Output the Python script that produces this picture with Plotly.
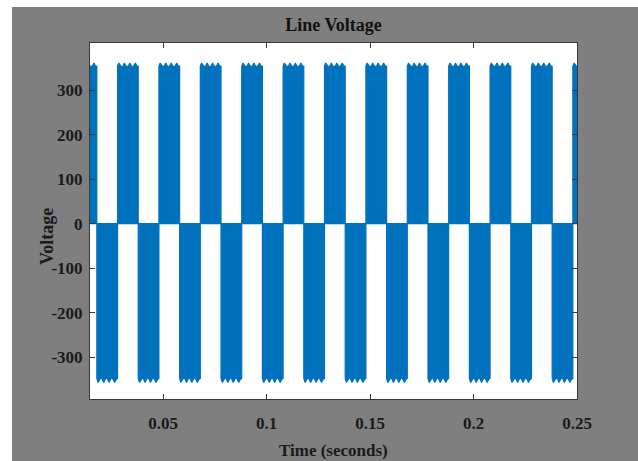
import plotly.graph_objects as go

# Line voltage of the inverter: each half cycle is a dense block of PWM pulses.
pos_starts = [0.008, 0.028, 0.048, 0.068, 0.088, 0.108, 0.128,
              0.148, 0.168, 0.188, 0.208, 0.228, 0.248]
neg_starts = [0.018, 0.038, 0.058, 0.078, 0.098, 0.118,
              0.138, 0.158, 0.178, 0.198, 0.218, 0.238]
half_cycle = 0.010  # s

# Peak envelope over one half cycle (DC-link ripple), as fraction of the half cycle
ripple_frac = [0.0, 0.06, 0.13, 0.20, 0.27, 0.33, 0.40, 0.46,
               0.53, 0.59, 0.66, 0.73, 0.79, 0.86, 0.93, 1.0]
pos_level = [354, 361, 355, 352, 355, 361, 355, 352,
             355, 361, 355, 352, 355, 361, 355, 354]
neg_level = [-348, -357, -350, -346, -350, -357, -350, -346,
             -350, -357, -350, -346, -350, -357, -350, -348]

x_ticks = [0.05, 0.1, 0.15, 0.2, 0.25]
x_tick_text = ["0.05", "0.1", "0.15", "0.2", "0.25"]
y_ticks = [-300, -200, -100, 0, 100, 200, 300]
y_tick_text = ["-300", "-200", "-100", "0", "100", "200", "300"]

BLUE = "#0072BD"
GRAY = "#7f7f7f"
FONT = "Liberation Serif"


def block_outline(start, levels):
    xs = [start]
    ys = [0]
    for f, v in zip(ripple_frac, levels):
        xs.append(start + f * half_cycle)
        ys.append(v)
    xs += [start + half_cycle, start, None]
    ys += [0, 0, None]
    return xs, ys


wx, wy = [], []
for s in sorted(pos_starts + neg_starts):
    lv = pos_level if s in pos_starts else neg_level
    bx, by = block_outline(s, lv)
    wx += bx
    wy += by

fig = go.Figure()
fig.add_trace(go.Scatter(
    x=wx, y=wy, mode="lines", fill="toself", fillcolor=BLUE,
    line=dict(color=BLUE, width=1.2), hoverinfo="skip", showlegend=False,
))

axis_common = dict(
    showgrid=False, zeroline=False, showline=True, mirror="ticks",
    linecolor="#383838", linewidth=1, ticks="inside", ticklen=5,
    tickcolor="#383838",
    tickfont=dict(family=FONT, size=17, color="#1a1a1a", weight="bold"),
)

fig.update_xaxes(range=[0.0147, 0.25], tickvals=x_ticks, ticktext=x_tick_text,
                 ticklabelstandoff=9, **axis_common)
fig.update_yaxes(range=[-394, 406], tickvals=y_ticks, ticktext=y_tick_text,
                 ticklabelstandoff=3, **axis_common)

fig.update_layout(
    width=638, height=461,
    margin=dict(l=90, r=61, t=43, b=62),
    paper_bgcolor=GRAY, plot_bgcolor="white",
    title=dict(text="Line Voltage", x=0.5, xref="paper", y=1 - 25 / 461,
               yanchor="middle",
               font=dict(family=FONT, size=18, color="#111111", weight="bold")),
    annotations=[
        dict(text="Time (seconds)", xref="paper", yref="paper",
             x=0.5, y=(399 - 450) / 356, showarrow=False,
             xanchor="center", yanchor="middle",
             font=dict(family=FONT, size=17, color="#1a1a1a", weight="bold")),
        dict(text="Voltage", xref="paper", yref="paper",
             x=(47 - 90) / 487, y=(399 - 237) / 356, showarrow=False,
             textangle=-90, xanchor="center", yanchor="middle",
             font=dict(family=FONT, size=18, color="#1a1a1a", weight="bold")),
    ],
    shapes=[
        # white page border at the left and top edges
        dict(type="rect", xref="paper", yref="paper",
             x0=-0.19, x1=(12 - 90) / 487, y0=-0.3, y1=1.3,
             fillcolor="white", line=dict(width=0)),
        dict(type="rect", xref="paper", yref="paper",
             x0=-0.3, x1=1.3, y0=(399 - 7) / 356, y1=1.3,
             fillcolor="white", line=dict(width=0)),
    ],
)

fig.write_html("out.html")
